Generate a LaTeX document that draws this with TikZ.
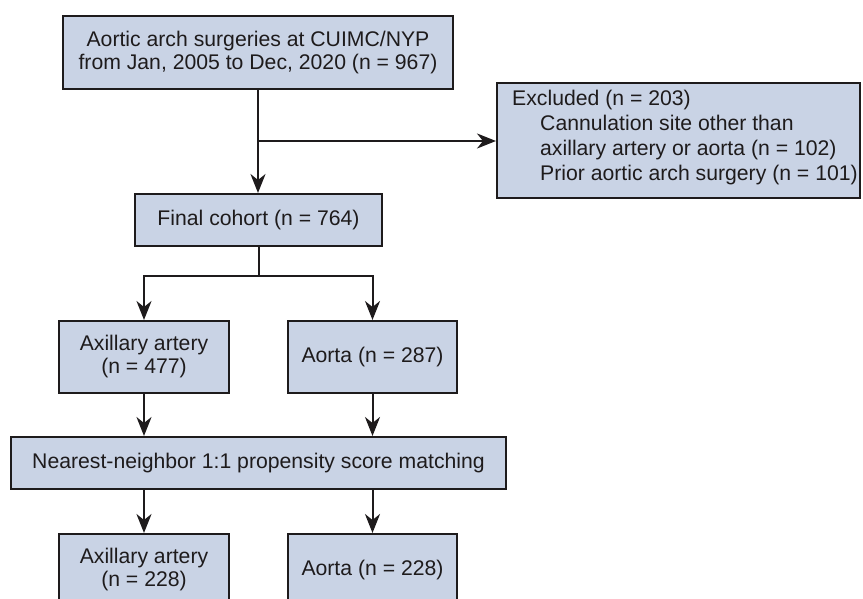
\documentclass[tikz,border=0pt]{standalone}
\usepackage{fontspec}
\setmainfont{Liberation Sans}
\usetikzlibrary{arrows.meta}
\definecolor{boxfill}{RGB}{201,211,229}
\definecolor{ink}{RGB}{30,27,28}
\tikzset{
  x=1pt, y=-1pt,
  box/.style={draw=ink, fill=boxfill, line width=2pt, inner sep=0pt, align=center,
    text=ink, font=\fontsize{21.2}{23}\selectfont},
  txt/.style={text=ink, inner sep=0pt, font=\fontsize{21.2}{25}\selectfont},
  conn/.style={draw=ink, line width=2pt, -{Stealth[length=19pt,width=15pt,inset=6pt]}},
  line/.style={draw=ink, line width=2pt}
}
\begin{document}
\begin{tikzpicture}
\useasboundingbox (0,0) rectangle (863,599);
\node[box, minimum width=390pt, minimum height=73pt] (top) at (258,52.5)
  {Aortic arch surgeries at CUIMC/NYP\\from Jan, 2005 to Dec, 2020 (n = 967)};
\node[box, minimum width=363pt, minimum height=115pt] (excl) at (678.5,140.5) {};
\node[txt, anchor=west, align=left] (excltxt) at (512,137.5)
  {Excluded (n = 203)\\
   \hspace*{28pt}Cannulation site other than\\
   \hspace*{28pt}axillary artery or aorta (n = 102)\\
   \hspace*{28pt}Prior aortic arch surgery (n = 101)};
\node[box, minimum width=247pt, minimum height=52pt] (final) at (258.5,220) {Final cohort (n = 764)};
\node[box, minimum width=170pt, minimum height=72pt] (ax1) at (144,357) {Axillary artery\\(n = 477)};
\node[box, minimum width=169pt, minimum height=72pt] (ao1) at (372.5,357) {Aorta (n = 287)};
\node[box, minimum width=495pt, minimum height=52pt] (match) at (258.5,463)
  {Nearest-neighbor 1:1 propensity score matching};
\node[box, minimum width=170pt, minimum height=72pt] (ax2) at (144,570) {Axillary artery\\(n = 228)};
\node[box, minimum width=169pt, minimum height=72pt] (ao2) at (372.5,570) {Aorta (n = 228)};
\coordinate (b1) at (258,141);
\coordinate (b2) at (258,276);
\draw[conn] (top.south) -- (top.south |- final.north);
\draw[conn] (b1) -- (b1 -| excl.west);
\draw[line] (final.south) -- (final.south |- b2);
\draw[conn] (final.south |- b2) -| (ax1.north);
\draw[conn] (final.south |- b2) -| (ao1.north);
\draw[conn] (ax1.south) -- (ax1.south |- match.north);
\draw[conn] (ao1.south) -- (ao1.south |- match.north);
\draw[conn] (ax2.north |- match.south) -- (ax2.north);
\draw[conn] (ao2.north |- match.south) -- (ao2.north);
\end{tikzpicture}
\end{document}
